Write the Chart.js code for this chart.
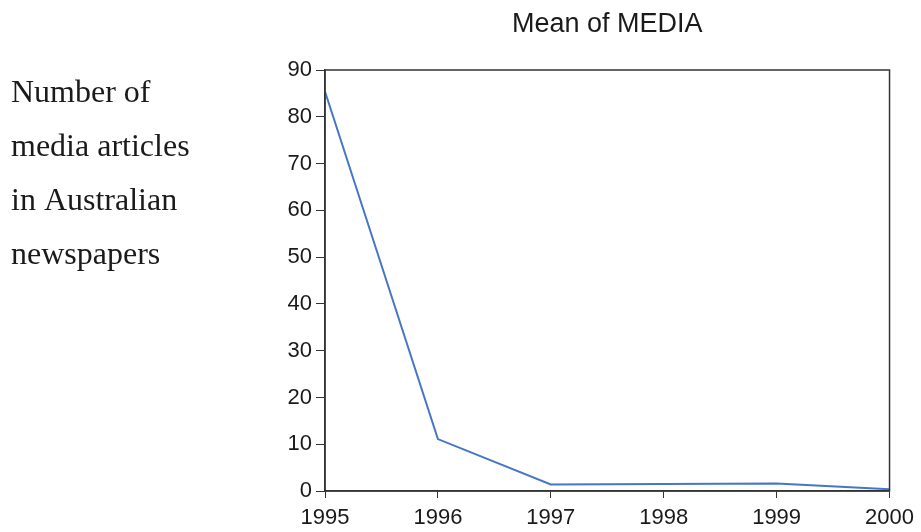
<!DOCTYPE html>
<html lang="en">

<head>
    <meta charset="UTF-8">
    <title>Mean of MEDIA</title>
    <script src="https://cdn.jsdelivr.net/npm/chart.js"></script>
    <style>
        html, body { margin: 0; padding: 0; background: #fff; }
        #wrap { position: relative; width: 921px; height: 532px; }
    </style>
</head>

<body>
    <div id="wrap">
        <canvas id="myChart" width="921" height="532"></canvas>
    </div>

    <script>
        const years = ['1995', '1996', '1997', '1998', '1999', '2000'];
        const meanMedia = [85.4, 11.1, 1.4, 1.5, 1.6, 0.4];
        const chartTitle = 'Mean of MEDIA';
        const sideNote = ['Number of', 'media articles', 'in Australian', 'newspapers'];

        const ink = '#1a1a1a';
        const sans = '"Liberation Sans", Arial, sans-serif';

        // frame around plot, title over the plot, text on the left
        const plugin = {
            id: 'frame_and_note',
            afterDraw: (chart) => {
                const ctx = chart.ctx;
                const a = chart.chartArea;
                ctx.save();
                ctx.strokeStyle = '#333';
                ctx.lineWidth = 1.5;
                ctx.strokeRect(a.left, a.top, a.right - a.left, a.bottom - a.top);

                ctx.fillStyle = ink;
                ctx.font = '27px ' + sans;
                ctx.textAlign = 'center';
                ctx.textBaseline = 'alphabetic';
                ctx.fillText(chartTitle, (a.left + a.right) / 2, 32);

                ctx.textAlign = 'left';
                ctx.font = '32px "Liberation Serif", "Times New Roman", serif';
                sideNote.forEach((line, i) => {
                    ctx.fillText(line, 11, 102 + i * 54);
                });
                ctx.restore();
            }
        };

        const config = {
            type: 'line',
            data: {
                labels: years,
                datasets: [{
                    label: 'MEDIA',
                    data: meanMedia,
                    borderColor: '#4677c4',
                    borderWidth: 2,
                    pointRadius: 0,
                    tension: 0,
                    fill: false
                }]
            },
            options: {
                responsive: false,
                animation: false,
                layout: { padding: { left: 0, right: 30, top: 70, bottom: 0 } },
                plugins: {
                    legend: { display: false },
                    tooltip: { enabled: false },
                    title: { display: false }
                },
                scales: {
                    x: {
                        offset: false,
                        afterFit: (scale) => { scale.height = 41; },
                        grid: {
                            drawOnChartArea: false,
                            color: '#333',
                            tickLength: 7,
                            offset: false
                        },
                        border: { color: '#333', width: 1.5 },
                        ticks: {
                            color: ink,
                            padding: 7,
                            maxRotation: 0,
                            font: { family: sans, size: 22 }
                        }
                    },
                    y: {
                        min: 0,
                        max: 90,
                        afterFit: (scale) => { scale.width = 325; },
                        grid: {
                            drawOnChartArea: false,
                            color: '#333',
                            tickLength: 9
                        },
                        border: { color: '#333', width: 1.5 },
                        ticks: {
                            stepSize: 10,
                            color: ink,
                            padding: 4,
                            font: { family: sans, size: 22 }
                        }
                    }
                }
            },
            plugins: [plugin]
        };

        var chart = new Chart(document.getElementById('myChart'), config);
    </script>
</body>

</html>
